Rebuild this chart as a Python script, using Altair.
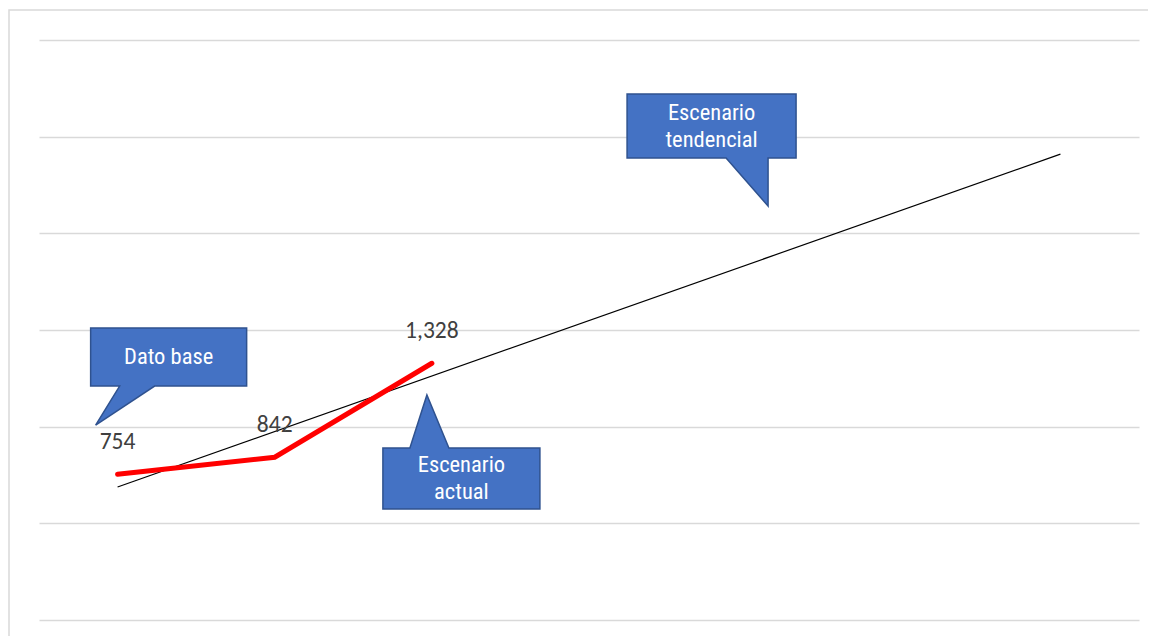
import altair as alt
import pandas as pd

# Observed series (Escenario actual)
periods = [0, 1, 2]
values = [754, 842, 1328]
value_labels = ["754", "842", "1,328"]

# Callout annotations (anchor in data coordinates)
callout_text = [["Dato base"], ["Escenario", "actual"], ["Escenario", "tendencial"]]
callout_lines = [1, 2, 2]
callout_x = [0.325, 2.188, 3.780]
callout_y = [1360, 732, 2555]
callout_shape = [
    "M-78,-29H78V29H-14L-73,68L-49,29H-78Z",
    "M-78.5,-30.5H-51.5L-34.5,-83.5L-12.5,-30.5H78.5V30.5H-78.5Z",
    "M-84.5,-32H84.5V32H56.5V80L14.5,32H-84.5Z",
]

y_ticks = [0, 500, 1000, 1500, 2000, 2500, 3000]

df = pd.DataFrame({"x": periods, "y": values, "label": value_labels})
cdf = pd.DataFrame({"x": callout_x, "y": callout_y, "text": callout_text,
                    "lines": callout_lines, "shape": callout_shape})

xs = alt.Scale(domain=[-0.5, 6.5], nice=False, zero=False)
ys = alt.Scale(domain=[0, 3000], nice=False)

base = alt.Chart(df)

grid = base.mark_line(opacity=0).encode(
    x=alt.X("x:Q", scale=xs, axis=None),
    y=alt.Y(
        "y:Q",
        scale=ys,
        axis=alt.Axis(
            values=y_ticks, labels=False, ticks=False, domain=False, title=None,
            grid=True, gridColor="#D9D9D9", gridWidth=1.5,
        ),
    ),
)

border = alt.Chart(pd.DataFrame({"a": [0]})).mark_rect(
    fill="white", fillOpacity=0, stroke="#D9D9D9", strokeWidth=1.5
).encode(
    x=alt.value(-30), x2=alt.value(1300), y=alt.value(-30), y2=alt.value(800)
)

trend = base.transform_regression("x", "y", extent=[0, 6]).mark_line(
    color="black", strokeWidth=1.2
).encode(x=alt.X("x:Q", scale=xs), y=alt.Y("y:Q", scale=ys))

actual = base.mark_line(color="#FF0000", strokeWidth=5, strokeCap="round").encode(
    x=alt.X("x:Q", scale=xs), y=alt.Y("y:Q", scale=ys)
)

labels = base.mark_text(
    dy=-32, fontSize=23.5, font="Carlito, Lato, Noto Sans", color="#404040", baseline="middle"
).encode(x=alt.X("x:Q", scale=xs), y=alt.Y("y:Q", scale=ys), text="label:N")

callouts = alt.Chart(cdf).mark_point(
    filled=True, fill="#4472C4", stroke="#2F528F", strokeWidth=1.5, opacity=1, size=4
).encode(
    x=alt.X("x:Q", scale=xs),
    y=alt.Y("y:Q", scale=ys),
    shape=alt.Shape("shape:N", scale=None, legend=None),
)

txt_kw = dict(
    color="white", fontSize=22.5, lineHeight=27, baseline="middle",
    font="Liberation Sans Narrow, Arial Narrow, Roboto Condensed, Liberation Sans",
)

callout_labels_1 = alt.Chart(cdf).transform_filter("datum.lines == 1").mark_text(**txt_kw).encode(
    x=alt.X("x:Q", scale=xs), y=alt.Y("y:Q", scale=ys), text="text"
)
callout_labels_2 = alt.Chart(cdf).transform_filter("datum.lines == 2").mark_text(dy=-13.5, **txt_kw).encode(
    x=alt.X("x:Q", scale=xs), y=alt.Y("y:Q", scale=ys), text="text"
)

chart = alt.layer(border, grid, trend, actual, labels, callouts,
                  callout_labels_1, callout_labels_2).properties(
    width=1100,
    height=580,
    autosize=alt.AutoSizeParams(type="none"),
    padding={"left": 31, "top": 32, "right": 9, "bottom": 16},
    background="white",
).configure_view(stroke=None)

chart.save("out.html", embed_options={"renderer": "svg", "actions": False})
